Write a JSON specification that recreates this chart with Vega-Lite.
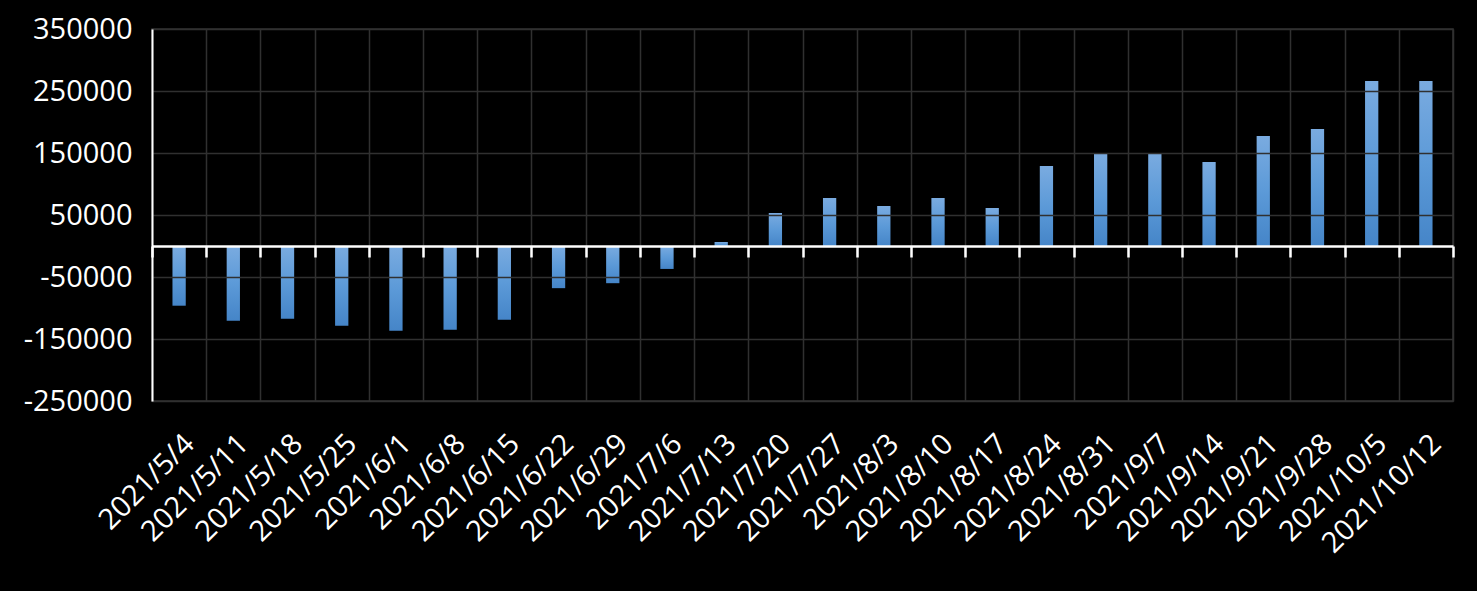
{
  "$schema": "https://vega.github.io/schema/vega-lite/v6.json",
  "autosize": {"type": "none"},
  "width": 1301,
  "height": 372,
  "padding": {"left": 152, "top": 29, "right": 24, "bottom": 190},
  "background": "#000000",
  "config": {
    "view": {"stroke": "#333333", "strokeWidth": 1.5},
    "font": "Open Sans",
    "axis": {"labelFont": "Open Sans", "labelColor": "#ffffff", "title": null}
  },
  "data": {
    "values": [
      {"date": "2021/5/4", "value": -96300},
      {"date": "2021/5/11", "value": -120500},
      {"date": "2021/5/18", "value": -117200},
      {"date": "2021/5/25", "value": -128500},
      {"date": "2021/6/1", "value": -136600},
      {"date": "2021/6/8", "value": -135000},
      {"date": "2021/6/15", "value": -119000},
      {"date": "2021/6/22", "value": -68000},
      {"date": "2021/6/29", "value": -60000},
      {"date": "2021/7/6", "value": -37000},
      {"date": "2021/7/13", "value": 6500},
      {"date": "2021/7/20", "value": 53200},
      {"date": "2021/7/27", "value": 77400},
      {"date": "2021/8/3", "value": 64500},
      {"date": "2021/8/10", "value": 77400},
      {"date": "2021/8/17", "value": 61300},
      {"date": "2021/8/24", "value": 129000},
      {"date": "2021/8/31", "value": 148400},
      {"date": "2021/9/7", "value": 150000},
      {"date": "2021/9/14", "value": 135500},
      {"date": "2021/9/21", "value": 177400},
      {"date": "2021/9/28", "value": 188700},
      {"date": "2021/10/5", "value": 266000},
      {"date": "2021/10/12", "value": 266000}
    ]
  },
  "resolve": {"axis": {"x": "independent"}},
  "layer": [
    {
      "mark": {
        "type": "bar",
        "width": {"band": 0.245},
        "color": {
          "gradient": "linear",
          "x1": 0, "y1": 0, "x2": 0, "y2": 1,
          "stops": [
            {"offset": 0, "color": "#7aabe0"},
            {"offset": 0.5, "color": "#5c9ad8"},
            {"offset": 1, "color": "#4585c8"}
          ]
        }
      },
      "encoding": {
        "x": {
          "field": "date",
          "type": "ordinal",
          "sort": null,
          "scale": {"paddingInner": 0, "paddingOuter": 0},
          "axis": {
            "orient": "bottom",
            "labelAngle": -45,
            "labelFontSize": 29,
            "labelPadding": 28,
            "domain": false,
            "ticks": false,
            "grid": true,
            "gridColor": "#303030",
            "gridWidth": 1.5,
            "tickBand": "extent"
          }
        },
        "y": {
          "field": "value",
          "type": "quantitative",
          "scale": {"domain": [-250000, 350000], "nice": false, "zero": false},
          "axis": {
            "values": [-250000, -150000, -50000, 50000, 150000, 250000, 350000],
            "labelExpr": "'' + datum.value",
            "labelFontSize": 29,
            "labelPadding": 20,
            "ticks": false,
            "domain": true,
            "domainColor": "#ffffff",
            "domainWidth": 2,
            "grid": true,
            "gridColor": "#303030",
            "gridWidth": 1.5,
            "zindex": 1
          }
        }
      }
    },
    {
      "mark": {"type": "bar", "opacity": 0},
      "encoding": {
        "x": {
          "field": "date",
          "type": "ordinal",
          "sort": null,
          "axis": {
            "orient": "bottom",
            "offset": -155,
            "labels": false,
            "grid": false,
            "domain": true,
            "domainColor": "#ffffff",
            "domainWidth": 2.5,
            "ticks": true,
            "tickColor": "#ffffff",
            "tickWidth": 2.5,
            "tickSize": 11,
            "tickBand": "extent",
            "zindex": 2
          }
        },
        "y": {"field": "value", "type": "quantitative"}
      }
    }
  ]
}
